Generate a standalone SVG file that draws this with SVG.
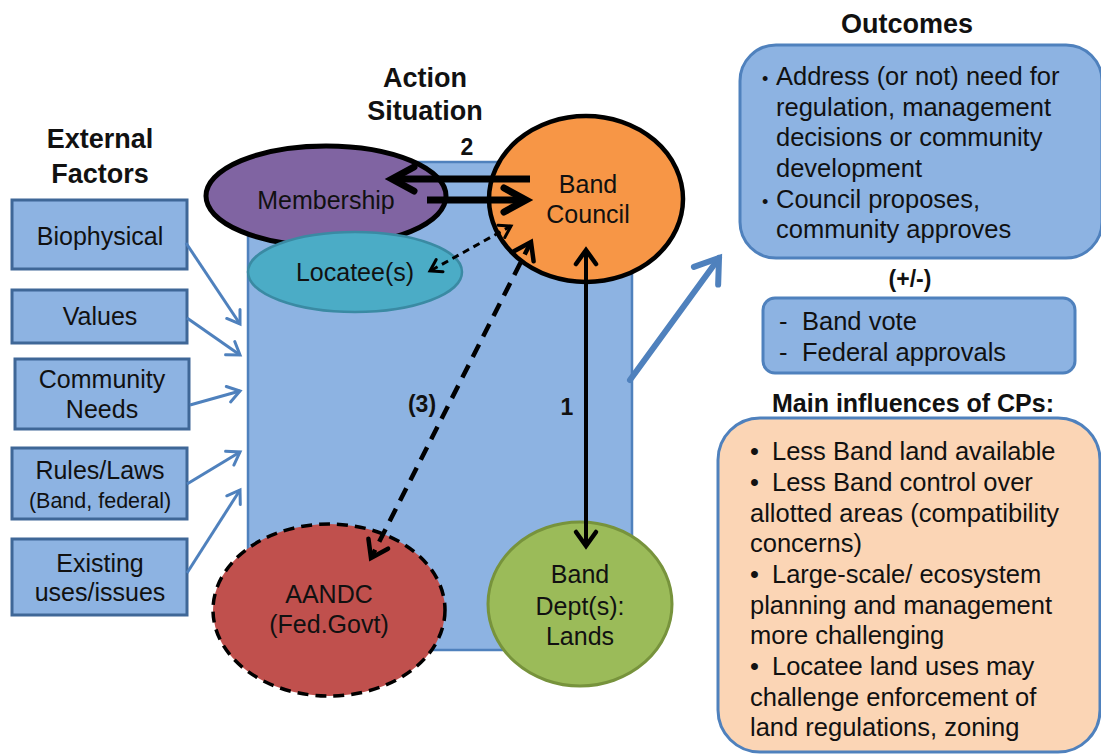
<svg xmlns="http://www.w3.org/2000/svg" width="1101" height="755" viewBox="0 0 1101 755">
  <style>
    text { font-family: "Liberation Sans", Arial, sans-serif; fill: #111; }
    .t { font-size: 25px; text-anchor: middle; }
    .ts { font-size: 21.5px; text-anchor: middle; }
    .h { font-size: 27px; font-weight: bold; text-anchor: middle; }
    .lbl { font-size: 23px; font-weight: bold; text-anchor: middle; }
    .sub { font-size: 25px; font-weight: bold; text-anchor: middle; }
    .body { font-size: 25.5px; }
    .factor { fill: #8db3e2; stroke: #3f6797; stroke-width: 3; }
    .blue-arrow { fill: none; stroke: #4f81bd; stroke-width: 3; marker-end: url(#m-blue-sm); }
    .black { fill: none; stroke: #000; }
  </style>
  <defs>
    <marker id="m-blue-sm" markerUnits="userSpaceOnUse" viewBox="-20 -20 40 40" markerWidth="40" markerHeight="40" orient="auto" overflow="visible">
      <path d="M-12,-8 L0,0 L-12,8" fill="none" stroke="#4f81bd" stroke-width="3" stroke-linecap="round"/>
    </marker>
    <marker id="m-blue-lg" markerUnits="userSpaceOnUse" viewBox="-30 -30 60 60" markerWidth="60" markerHeight="60" orient="auto" overflow="visible">
      <path d="M-22,-15 L0,0 L-22,15" fill="none" stroke="#4f81bd" stroke-width="6" stroke-linecap="round"/>
    </marker>
    <marker id="m-thick" markerUnits="userSpaceOnUse" viewBox="-30 -30 60 60" markerWidth="60" markerHeight="60" orient="auto" overflow="visible">
      <path d="M-22,-12 L0,0 L-22,12" fill="none" stroke="#000" stroke-width="7" stroke-linecap="round"/>
    </marker>
    <marker id="m-mid" markerUnits="userSpaceOnUse" viewBox="-20 -20 40 40" markerWidth="40" markerHeight="40" orient="auto-start-reverse" overflow="visible">
      <path d="M-14,-10 L0,0 L-14,10" fill="none" stroke="#000" stroke-width="4.5" stroke-linecap="round"/>
    </marker>
    <marker id="m-dash" markerUnits="userSpaceOnUse" viewBox="-20 -20 40 40" markerWidth="40" markerHeight="40" orient="auto-start-reverse" overflow="visible">
      <path d="M-16,-11 L0,0 L-16,11" fill="none" stroke="#000" stroke-width="4.5" stroke-linecap="round"/>
    </marker>
    <marker id="m-dot" markerUnits="userSpaceOnUse" viewBox="-20 -20 40 40" markerWidth="40" markerHeight="40" orient="auto-start-reverse" overflow="visible">
      <path d="M-11,-7 L0,0 L-11,7" fill="none" stroke="#000" stroke-width="3" stroke-linecap="round"/>
    </marker>
  </defs>

  <rect width="1101" height="755" fill="#fff"/>

  <!-- section headings -->
  <g id="headings">
    <text class="h" x="425" y="87">Action</text>
    <text class="h" x="425" y="120">Situation</text>
    <text class="h" x="100" y="148">External</text>
    <text class="h" x="100" y="183">Factors</text>
    <text class="h" x="907" y="33" font-size="28">Outcomes</text>
    <text class="lbl" x="910" y="287">(+/-)</text>
    <text class="sub" x="913" y="412">Main influences of CPs:</text>
  </g>

  <!-- action situation arena -->
  <g id="action-situation">
    <rect x="248" y="162" width="384" height="488" fill="#8db3e2" stroke="#4f81bd" stroke-width="2.5"/>
  </g>

  <g id="membership">
    <ellipse cx="326" cy="196" rx="120" ry="50" fill="#8064a2" stroke="#000" stroke-width="5"/>
    <text class="t" x="326" y="209">Membership</text>
  </g>

  <g id="locatees">
    <ellipse cx="355" cy="272" rx="107" ry="40" fill="#4bacc6" stroke="#3a8aa3" stroke-width="2.5"/>
    <text class="t" x="355" y="281">Locatee(s)</text>
  </g>

  <g id="band-council">
    <ellipse cx="586" cy="199" rx="97" ry="83" fill="#f79646" stroke="#000" stroke-width="4.5"/>
    <text class="t" x="588" y="193">Band</text>
    <text class="t" x="588" y="223">Council</text>
  </g>

  <g id="aandc">
    <ellipse cx="329" cy="610" rx="116" ry="86" fill="#c0504d" stroke="#000" stroke-width="3.5" stroke-dasharray="11 7"/>
    <text class="t" x="329" y="603">AANDC</text>
    <text class="t" x="329" y="633">(Fed.Govt)</text>
  </g>

  <g id="band-dept">
    <ellipse cx="580" cy="604" rx="92" ry="82" fill="#9bbb59" stroke="#77933c" stroke-width="3"/>
    <text class="t" x="580" y="583">Band</text>
    <text class="t" x="580" y="615">Dept(s):</text>
    <text class="t" x="580" y="645">Lands</text>
  </g>

  <!-- external factors -->
  <g id="f-biophysical">
    <rect class="factor" x="12" y="200" width="175" height="69"/>
    <text class="t" x="100" y="245">Biophysical</text>
  </g>
  <g id="f-values">
    <rect class="factor" x="12" y="290" width="175" height="53"/>
    <text class="t" x="100" y="325">Values</text>
  </g>
  <g id="f-community">
    <rect class="factor" x="15" y="359" width="174" height="70"/>
    <text class="t" x="102" y="388">Community</text>
    <text class="t" x="102" y="418">Needs</text>
  </g>
  <g id="f-rules">
    <rect class="factor" x="12" y="448" width="175" height="71"/>
    <text class="t" x="100" y="479">Rules/Laws</text>
    <text class="ts" x="100" y="508">(Band, federal)</text>
  </g>
  <g id="f-existing">
    <rect class="factor" x="12" y="539" width="175" height="76"/>
    <text class="t" x="100" y="572">Existing</text>
    <text class="t" x="100" y="601">uses/issues</text>
  </g>

  <!-- outcomes -->
  <g id="outcomes">
    <rect x="740" y="45" width="362" height="213" rx="36" fill="#8db3e2" stroke="#4f81bd" stroke-width="3"/>
    <g class="body">
      <text x="762" y="85" font-size="18">•</text>
      <text x="776" y="85">Address (or not) need for</text>
      <text x="776" y="116">regulation, management</text>
      <text x="776" y="146">decisions or community</text>
      <text x="776" y="177">development</text>
      <text x="762" y="208" font-size="18">•</text>
      <text x="776" y="208">Council proposes,</text>
      <text x="776" y="238">community approves</text>
    </g>
  </g>

  <g id="approvals">
    <rect x="763" y="298" width="312" height="75" rx="12" fill="#8db3e2" stroke="#4f81bd" stroke-width="3"/>
    <g class="body">
      <text x="779" y="330">-</text>
      <text x="802" y="330">Band vote</text>
      <text x="779" y="361">-</text>
      <text x="802" y="361">Federal approvals</text>
    </g>
  </g>

  <g id="cp-influences">
    <rect x="718" y="418" width="382" height="334" rx="42" fill="#fbd5b5" stroke="#4f81bd" stroke-width="3"/>
    <g class="body">
      <text x="750" y="460">•</text>
      <text x="772" y="460">Less Band land available</text>
      <text x="750" y="491">•</text>
      <text x="772" y="491">Less Band control over</text>
      <text x="750" y="522">allotted areas (compatibility</text>
      <text x="750" y="552">concerns)</text>
      <text x="750" y="583">•</text>
      <text x="772" y="583">Large-scale/ ecosystem</text>
      <text x="750" y="614">planning and management</text>
      <text x="750" y="644">more challenging</text>
      <text x="750" y="675">•</text>
      <text x="772" y="675">Locatee land uses may</text>
      <text x="750" y="706">challenge enforcement of</text>
      <text x="750" y="736">land regulations, zoning</text>
    </g>
  </g>

  <!-- connectors -->
  <g id="connectors">
    <line class="blue-arrow" x1="186" y1="243" x2="240" y2="324"/>
    <line class="blue-arrow" x1="187" y1="318" x2="240" y2="355"/>
    <line class="blue-arrow" x1="190" y1="405" x2="240" y2="391"/>
    <line class="blue-arrow" x1="187" y1="484" x2="240" y2="452"/>
    <line class="blue-arrow" x1="187" y1="573" x2="240" y2="490"/>
    <line x1="630" y1="380" x2="719" y2="258" stroke="#4f81bd" stroke-width="6" stroke-linecap="round" marker-end="url(#m-blue-lg)"/>

    <line class="black" x1="530" y1="179" x2="392" y2="179" stroke-width="7" marker-end="url(#m-thick)"/>
    <line class="black" x1="427" y1="200" x2="526" y2="200" stroke-width="7" marker-end="url(#m-thick)"/>
    <line class="black" x1="586" y1="250" x2="586" y2="546" stroke-width="4" marker-start="url(#m-mid)" marker-end="url(#m-mid)"/>
    <line class="black" x1="511" y1="226" x2="430" y2="271" stroke-width="3" stroke-dasharray="7 5" marker-start="url(#m-dot)" marker-end="url(#m-dot)"/>
    <line class="black" x1="531" y1="242" x2="371" y2="558" stroke-width="4.5" stroke-dasharray="14 9" marker-start="url(#m-dash)" marker-end="url(#m-dash)"/>
  </g>

  <g id="labels">
    <text class="lbl" x="467" y="155">2</text>
    <text class="lbl" x="422" y="412">(3)</text>
    <text class="lbl" x="567" y="415">1</text>
  </g>
</svg>
